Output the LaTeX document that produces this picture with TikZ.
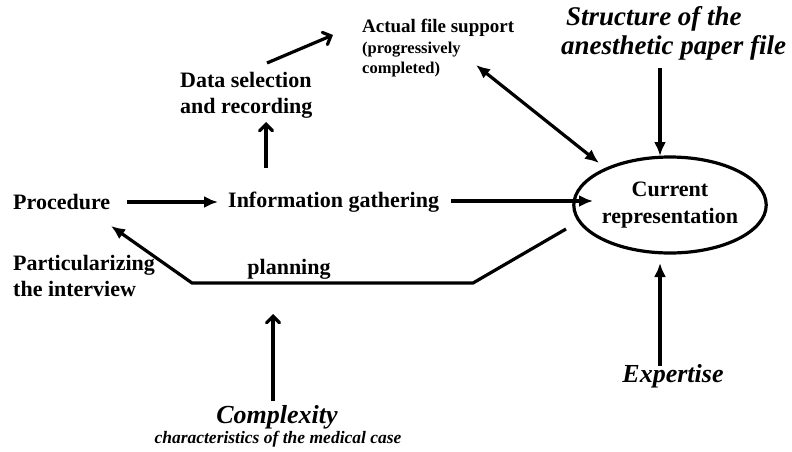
\documentclass[tikz,border=0pt]{standalone}
\usepackage{fontspec}
\setmainfont{Liberation Serif}
\usetikzlibrary{arrows.meta,arrows,positioning,shapes.geometric}

\begin{document}
\begin{tikzpicture}[x=1pt,y=-1pt,
  lbl/.style={font=\bfseries\fontsize{22}{26}\selectfont,inner sep=0pt},
  small/.style={font=\bfseries\fontsize{19}{22}\selectfont,inner sep=0pt,align=left},
  tiny/.style={font=\bfseries\fontsize{16.5}{20}\selectfont,inner sep=0pt,align=left},
  big/.style={font=\bfseries\itshape\fontsize{26}{30}\selectfont,inner sep=0pt},
  solid/.style={line width=3.2pt,-{Latex[length=14pt,width=12pt]}},
  open/.style={line width=3.2pt,->,>=angle 90}]
\useasboundingbox (0,0) rectangle (792,452);
\node[lbl,anchor=west] (A) at (13,202) {Procedure};
\node[lbl,anchor=west] (B) at (228,202) {Information gathering};
\node[lbl,align=left,anchor=west] (C) at (180,95) {Data selection\\and recording};
\node[small,anchor=west] (D) at (362,28) {Actual file support};
\node[tiny,anchor=north west] (D2) at (362,42) {(progressively\\completed)};
\node[big,align=left,anchor=west,font=\bfseries\itshape\fontsize{27}{29}\selectfont] (E) at (561,33) {\hspace{5pt}Structure of the\\anesthetic paper file};
\node[ellipse,draw,line width=3.2pt,minimum width=156pt,minimum height=96pt,
  inner sep=0pt,align=center,font=\bfseries\fontsize{22}{27}\selectfont] (F) at (670,205) {Current\\representation};
\node[big] (G) at (673,376) {Expertise};
\node[big] (H) at (277,417) {Complexity};
\node[font=\bfseries\itshape\fontsize{17.5}{20}\selectfont,inner sep=0pt] (H2) at (278,439) {characteristics of the medical case};
\node[lbl,align=left,anchor=west] (I) at (13,276) {Particularizing\\the interview};
\node[lbl] (J) at (289,269) {planning};
\coordinate (p0) at (566,229);
\coordinate (p1) at (473,283);
\coordinate (p2) at (192,283);
\coordinate (p3) at (111,226);
\draw[solid] (127,202) -- (218,202);
\draw[solid] (451,201) -- (593,201);
\draw[open] (266,168) -- (266,122);
\draw[open] (267,63) -- (333,35);
\draw[solid,{Latex[length=14pt,width=12pt]}-{Latex[length=14pt,width=12pt]}] (476,65) -- (599,163);
\draw[solid] (660,68) -- (660,156);
\draw[solid] (660,366) -- (660,263);
\draw[open] (273,401) -- (273,314);
\draw[solid] (p0) -- (p1) -- (p2) -- (p3);
\end{tikzpicture}
\end{document}
